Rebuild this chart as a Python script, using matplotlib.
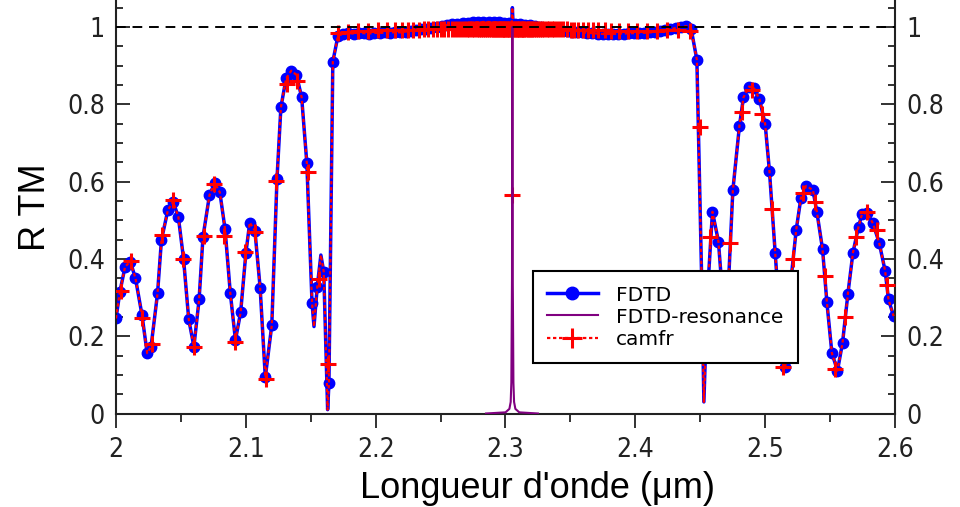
import matplotlib
matplotlib.use('Agg')
import matplotlib.pyplot as plt
from matplotlib.lines import Line2D
from matplotlib.ticker import MultipleLocator

# ---------------- data ----------------
# FDTD sample points (drawn with dots)
fdtd_wl = [2.000, 2.003, 2.007, 2.011, 2.015, 2.020, 2.024, 2.027, 2.032, 2.035,
           2.040, 2.044, 2.048, 2.052, 2.056, 2.060, 2.064, 2.067, 2.072, 2.076,
           2.080, 2.084, 2.088, 2.092, 2.096, 2.100, 2.103, 2.107, 2.111, 2.115,
           2.120, 2.124, 2.127, 2.131, 2.135, 2.139, 2.143, 2.147, 2.151, 2.155,
           2.160, 2.164, 2.167,
           2.171, 2.175, 2.179, 2.183, 2.187, 2.191, 2.195, 2.199, 2.203, 2.207,
           2.211, 2.215, 2.219, 2.223, 2.227, 2.231, 2.235, 2.239, 2.243, 2.247,
           2.251, 2.255, 2.259, 2.263, 2.267, 2.271, 2.275, 2.279, 2.283, 2.287,
           2.291, 2.295, 2.299, 2.303, 2.307, 2.311, 2.315, 2.319, 2.323, 2.327,
           2.331, 2.335, 2.339, 2.343, 2.347, 2.351, 2.355, 2.359, 2.363, 2.367,
           2.371, 2.375, 2.379, 2.383, 2.387, 2.391, 2.395, 2.399, 2.403, 2.407,
           2.411, 2.415, 2.419, 2.423, 2.427, 2.431, 2.435, 2.439, 2.443, 2.4474,
           2.4514, 2.4554, 2.4594, 2.4640, 2.4680, 2.4715, 2.4751, 2.4802, 2.4833,
           2.4877, 2.4915, 2.4956, 2.5000, 2.5033, 2.5077, 2.5118, 2.5155, 2.5197,
           2.5239, 2.5275, 2.5316, 2.5368, 2.5398, 2.5442, 2.5475, 2.5514, 2.5557,
           2.5596, 2.5637, 2.5676, 2.5719, 2.5745, 2.5783, 2.5830, 2.5878, 2.5924,
           2.5950, 2.5989]
fdtd_R = [0.246, 0.315, 0.380, 0.393, 0.350, 0.255, 0.156, 0.173, 0.311, 0.449,
          0.527, 0.548, 0.509, 0.401, 0.244, 0.173, 0.295, 0.457, 0.565, 0.597,
          0.572, 0.477, 0.313, 0.190, 0.262, 0.414, 0.494, 0.473, 0.326, 0.094,
          0.229, 0.607, 0.792, 0.867, 0.887, 0.876, 0.818, 0.647, 0.285, 0.328,
          0.367, 0.078, 0.910,
          0.978, 0.982, 0.984, 0.983, 0.985, 0.984, 0.983, 0.985, 0.984, 0.986,
          0.985, 0.987, 0.986, 0.988, 0.990, 0.992, 0.994, 0.996, 0.998, 1.000,
          1.003, 1.005, 1.007, 1.009, 1.010, 1.011, 1.012, 1.012, 1.013, 1.013,
          1.012, 1.012, 1.011, 1.010, 1.009, 1.008, 1.006, 1.004, 1.002, 1.000,
          0.998, 0.996, 0.994, 0.992, 0.990, 0.988, 0.987, 0.986, 0.985, 0.984,
          0.983, 0.982, 0.982, 0.982, 0.983, 0.983, 0.984, 0.984, 0.985, 0.985,
          0.986, 0.987, 0.989, 0.991, 0.994, 0.997, 1.000, 1.002, 0.995, 0.915,
          0.300, 0.300, 0.522, 0.445, 0.270, 0.320, 0.577, 0.745, 0.818,
          0.846, 0.841, 0.813, 0.749, 0.627, 0.416, 0.220, 0.120, 0.340,
          0.475, 0.557, 0.589, 0.578, 0.522, 0.425, 0.289, 0.156, 0.111,
          0.183, 0.309, 0.416, 0.483, 0.515, 0.520, 0.492, 0.442, 0.369,
          0.295, 0.252]
# extra points of the FDTD curve between samples (sharp features, no dots)
fdtd_fine_wl = [2.1525, 2.1578, 2.1630, 2.3048, 2.3053, 2.3058, 2.4528]
fdtd_fine_R = [0.225, 0.410, 0.010, 1.010, 1.050, 1.010, 0.030]

# FDTD resonance curve
res_wl = [2.285, 2.300, 2.303, 2.304, 2.3045, 2.305, 2.3053, 2.3056, 2.3061, 2.3066, 2.3076, 2.3106, 2.325]
res_R = [0.000, 0.003, 0.012, 0.030, 0.080, 0.350, 1.000, 0.350, 0.080, 0.030, 0.012, 0.003, 0.000]

# camfr points (crosses)
camfr_wl = [2.0036, 2.0113, 2.0198, 2.0275, 2.0357, 2.0437, 2.0514, 2.0600, 2.0678,
            2.0755, 2.0832, 2.0917, 2.0994, 2.1070, 2.1156, 2.1233, 2.1315, 2.1397,
            2.1480, 2.1560, 2.1636,
            2.1713, 2.1790, 2.1867, 2.1944, 2.2021, 2.2090, 2.2150, 2.2200, 2.2250,
            2.2290, 2.2330, 2.2370, 2.2405, 2.2440, 2.2470, 2.2500, 2.2530, 2.2560,
            2.2585, 2.2610, 2.2635, 2.2660, 2.2680, 2.2700, 2.2720, 2.2740, 2.2760,
            2.2780, 2.2795, 2.2810, 2.2825, 2.2840, 2.2855, 2.2870, 2.2885, 2.2900,
            2.2912, 2.2924, 2.2936, 2.2948, 2.2960, 2.2970, 2.2980, 2.2990, 2.3000,
            2.3010, 2.3020, 2.3030, 2.3040, 2.3053, 2.3066, 2.3076, 2.3086, 2.3096,
            2.3106, 2.3116, 2.3126, 2.3136, 2.3146, 2.3158, 2.3170, 2.3182, 2.3194,
            2.3206, 2.3221, 2.3236, 2.3251, 2.3266, 2.3281, 2.3296, 2.3316, 2.3336,
            2.3356, 2.3376, 2.3396, 2.3421, 2.3446, 2.3471, 2.3501, 2.3531, 2.3561,
            2.3596, 2.3636, 2.3676, 2.3716, 2.3763, 2.3816, 2.3876, 2.3943, 2.4016,
            2.4093, 2.4170, 2.4247, 2.4330, 2.4422,
            2.4499, 2.4576, 2.4730, 2.4820, 2.4897, 2.4974, 2.5056, 2.5140, 2.5218,
            2.5295, 2.5385, 2.5462, 2.5539, 2.5616, 2.5700, 2.5783, 2.5860, 2.5937]
camfr_R = [0.318, 0.395, 0.248, 0.180, 0.462, 0.552, 0.400, 0.173, 0.460,
           0.594, 0.460, 0.186, 0.417, 0.470, 0.088, 0.602, 0.853, 0.861,
           0.624, 0.348, 0.128,
           0.985, 0.988, 0.990, 0.990, 0.991, 0.991, 0.992, 0.992, 0.993,
           0.993, 0.993, 0.994, 0.994, 0.994, 0.995, 0.995, 0.995, 0.995,
           0.995, 0.995, 0.995, 0.995, 0.995, 0.995, 0.995, 0.995, 0.995,
           0.995, 0.995, 0.995, 0.995, 0.995, 0.995, 0.995, 0.995, 0.995,
           0.995, 0.995, 0.995, 0.995, 0.995, 0.995, 0.995, 0.995, 0.995,
           0.995, 0.995, 0.995, 0.995, 0.565, 0.995, 0.995, 0.995, 0.995,
           0.995, 0.995, 0.995, 0.995, 0.995, 0.995, 0.995, 0.995, 0.995,
           0.995, 0.995, 0.995, 0.995, 0.995, 0.995, 0.995, 0.995, 0.995,
           0.995, 0.995, 0.994, 0.994, 0.994, 0.994, 0.993, 0.993, 0.993,
           0.992, 0.992, 0.992, 0.991, 0.991, 0.990, 0.990, 0.990, 0.990,
           0.990, 0.990, 0.991, 0.992, 0.990,
           0.742, 0.457, 0.442, 0.779, 0.837, 0.775, 0.528, 0.121, 0.399,
           0.570, 0.548, 0.356, 0.114, 0.249, 0.457, 0.522, 0.475, 0.332]

x_ticks = [2.0, 2.1, 2.2, 2.3, 2.4, 2.5, 2.6]
x_ticklabels = ['2', '2.1', '2.2', '2.3', '2.4', '2.5', '2.6']
y_ticks = [0, 0.2, 0.4, 0.6, 0.8, 1.0]
y_ticklabels = ['0', '0.2', '0.4', '0.6', '0.8', '1']

# ---------------- plot ----------------
line_pts = sorted(zip(fdtd_wl + fdtd_fine_wl, fdtd_R + fdtd_fine_R))
line_wl = [p[0] for p in line_pts]
line_R = [p[1] for p in line_pts]
dot_set = set(fdtd_wl)
mark_idx = [i for i, w in enumerate(line_wl) if w in dot_set]

fig = plt.figure(figsize=(9.6, 5.07), dpi=100)
ax = fig.add_axes([116 / 960, 1 - 413.5 / 507, (895 - 116) / 960, 413.5 / 507])

ax.plot(line_wl, line_R, color='blue', lw=2.5, marker='o', ms=7.5,
        markevery=mark_idx, mec='blue', mfc='blue', zorder=2)
ax.plot(line_wl, line_R, color='red', lw=1.6, ls=(0, (1.5, 1.2)), zorder=3)
ax.plot(camfr_wl, camfr_R, ls='none', marker='+', ms=12, mew=2.2, color='red', zorder=4)
ax.plot(res_wl, res_R, color='purple', lw=1.5, zorder=5)
ax.axhline(1.0, color='black', lw=1.4, ls=(0, (5, 3.5)), zorder=6)

ax.set_xlim(2.0, 2.6)
ax.set_ylim(0, 413.5 / 386.5)
ax.spines['top'].set_visible(False)
for s in ['left', 'right', 'bottom']:
    ax.spines[s].set_linewidth(1.5)
    ax.spines[s].set_color('#222222')

ax.set_xticks(x_ticks)
ax.set_xticklabels(x_ticklabels)
ax.xaxis.set_minor_locator(MultipleLocator(0.05))
ax.set_yticks(y_ticks)
ax.set_yticklabels(y_ticklabels)
ax.yaxis.set_minor_locator(MultipleLocator(0.05))
ax.tick_params(axis='x', which='major', direction='out', length=10, width=1.3,
               labelsize=19, pad=7, colors='#222222')
ax.tick_params(axis='x', which='minor', direction='out', length=6, width=1.3, colors='#222222')
ax.tick_params(axis='y', which='major', direction='in', length=10, width=1.3,
               labelsize=19, left=True, right=True, labelleft=True, labelright=True,
               pad=8, colors='#222222')
ax.tick_params(axis='y', which='minor', direction='in', length=5, width=1.3,
               left=True, right=True, colors='#222222')
for lab in ax.get_xticklabels() + ax.get_yticklabels():
    lab.set_family('DejaVu Sans')
    lab.set_stretch('condensed')

ax.set_xlabel("Longueur d'onde (μm)", fontsize=26, family='Liberation Sans')
ax.xaxis.set_label_coords((538 - 116) / 779, -0.138)
ax.xaxis.label.set_va('top')
ax.set_ylabel('R TM', fontsize=26, family='Liberation Sans', labelpad=10)

handles = [
    Line2D([], [], color='blue', lw=2.5, marker='o', ms=9),
    Line2D([], [], color='purple', lw=1.5),
    Line2D([], [], color='red', lw=1.6, ls=(0, (1.5, 1.2)), marker='+', ms=14, mew=2.2),
]
leg = ax.legend(handles, ['FDTD', 'FDTD-resonance', 'camfr'], loc='lower left',
                bbox_to_anchor=(0.535, 0.122), borderaxespad=0, fontsize=14.5,
                frameon=True, fancybox=False, framealpha=1, edgecolor='black',
                handlelength=2.5, labelspacing=0.15, borderpad=0.72, handletextpad=0.9)
leg.get_frame().set_linewidth(1.5)
leg.set_zorder(10)

fig.savefig('out.png', dpi=100)
